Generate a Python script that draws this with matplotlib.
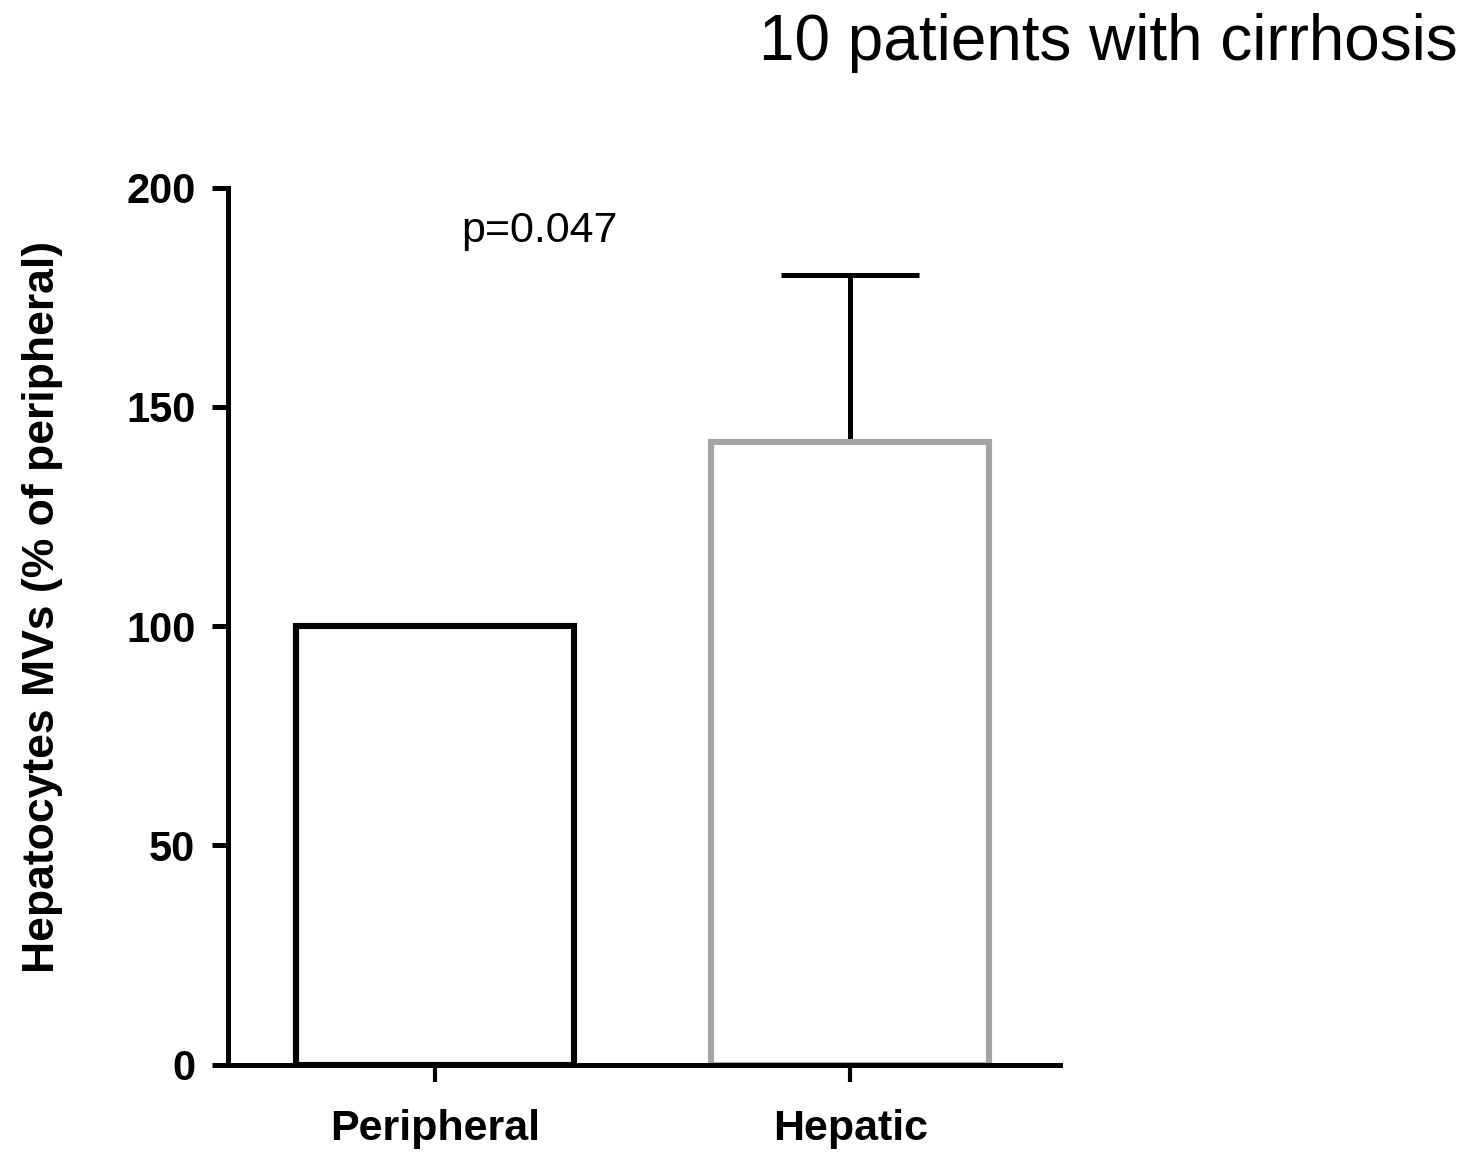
import matplotlib
matplotlib.use("Agg")
import matplotlib.pyplot as plt

# Data
groups = ["Peripheral", "Hepatic"]
means = [100, 142]
sem_upper = [0, 38]
edge_colors = ["#000000", "#a3a3a8"]
yticks = [0, 50, 100, 150, 200]

plt.rcParams["font.family"] = ["Liberation Sans", "DejaVu Sans"]

fig = plt.figure(figsize=(14.76, 11.75), dpi=100)
ax = fig.add_axes([0.1545, 0.094, 0.5637, 0.7464])

x = list(range(len(groups)))
ax.bar(x, means, width=0.67, color="white", edgecolor=edge_colors,
       linewidth=4.4, zorder=2)
ax.errorbar(x[1], means[1], yerr=[[0], [sem_upper[1]]], fmt="none",
            ecolor="black", elinewidth=3.6, capsize=50, capthick=3.6, zorder=1)

ax.set_xlim(-0.5, 1.506)
ax.set_ylim(0, 200)
ax.set_yticks(yticks)
ax.set_yticklabels([str(v) for v in yticks], fontsize=30, fontweight="bold")
ax.set_xticks(x)
ax.set_xticklabels(groups, fontsize=31, fontweight="bold")

for s in ["top", "right"]:
    ax.spines[s].set_visible(False)
for s in ["left", "bottom"]:
    ax.spines[s].set_linewidth(3.6)
ax.tick_params(axis="y", length=11.5, width=3.6, pad=12)
ax.tick_params(axis="x", length=12, width=3.0, pad=20)

ax.text(0.25, 190, "p=0.047", fontsize=31, ha="center", va="center")

fig.text(43 / 1476, 1 - 607 / 1175, "Hepatocytes MVs (% of peripheral)",
         rotation=90, fontsize=32, fontweight="bold", ha="center", va="center")
fig.text(1458 / 1476, 1 - 60 / 1175, "10 patients with cirrhosis",
         fontsize=46, ha="right", va="baseline")

fig.savefig("out.png", dpi=100)
